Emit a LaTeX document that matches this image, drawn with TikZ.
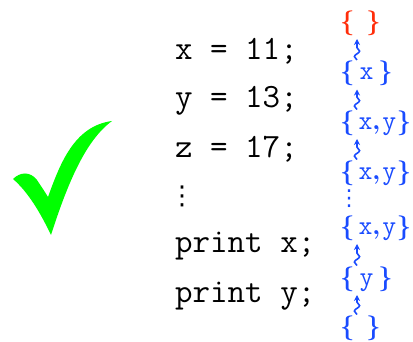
\documentclass[tikz,border=0pt]{standalone}
\usepackage{fontspec}
\newfontfamily\dejavu{DejaVu Sans}
\usetikzlibrary{decorations.pathmorphing,arrows.meta}
\definecolor{setblue}{RGB}{25,75,255}
\definecolor{setred}{RGB}{255,45,10}
\definecolor{checkgreen}{RGB}{0,255,0}
\tikzset{
  code/.style={anchor=base west,inner sep=0pt,font=\ttfamily\fontsize{34}{34}\selectfont},
  setnode/.style={anchor=west,inner sep=0pt,text=setblue,font=\boldmath\fontsize{27}{27}\selectfont},
  wavy/.style={setblue,line width=1.6pt,-{Stealth[length=6pt,width=6pt]},
    decorate,decoration={snake,amplitude=2.6pt,segment length=11pt,post length=4pt}},
}
\newcommand{\sx}{{\ttfamily\mdseries x}}
\newcommand{\sy}{{\ttfamily\mdseries y}}
\begin{document}
\begin{tikzpicture}[x=1pt,y=-1pt]
\useasboundingbox (0,0) rectangle (413,342);
% check mark
\fill[checkgreen] (13,179) .. controls (20,172) and (30,171) .. (37,180)
  .. controls (41,186) and (45,192) .. (48,197)
  .. controls (60,164) and (74,126) .. (112,121)
  .. controls (86,140) and (68,182) .. (51,235)
  .. controls (40,212) and (28,192) .. (13,179) -- cycle;
% code
\node[code] (c1) at (175,60) {x = 11;};
\node[code] (c2) at (175,108) {y = 13;};
\node[code] (c3) at (175,158) {z = 17;};
\node[anchor=center,inner sep=0pt,font=\dejavu\fontsize{26}{26}\selectfont] (cvd) at (182,196) {⋮};
\node[code] (c4) at (175,253) {print x;};
\node[code] (c5) at (175,302) {print y;};
% sets
\node[setnode,text=setred] (s0) at (340,23) {$\{\hspace{12pt}\}$};
\node[setnode] (s1) at (340,73.5) {$\{\hspace{5pt}$\sx$\hspace{5pt}\}$};
\node[setnode] (s2) at (340,123) {$\{\hspace{4pt}$\sx$,\hspace{2pt}$\sy$\hspace{0.5pt}\}$};
\node[setnode] (s3) at (340,173) {$\{\hspace{4pt}$\sx$,\hspace{2pt}$\sy$\hspace{0.5pt}\}$};
\node[anchor=center,inner sep=0pt,text=setblue,font=\dejavu\fontsize{22}{22}\selectfont] (svd) at (349,199) {⋮};
\node[setnode] (s4) at (340,228) {$\{\hspace{4pt}$\sx$,\hspace{2pt}$\sy$\hspace{0.5pt}\}$};
\node[setnode] (s5) at (340,279) {$\{\hspace{5pt}$\sy$\hspace{5pt}\}$};
\node[setnode] (s6) at (340,328) {$\{\hspace{12pt}\}$};
% arrows: from lower set up to upper set
\draw[wavy] ([xshift=17pt,yshift=13.5pt]s1.west) -- ([xshift=17pt,yshift=-16pt]s0.west);
\draw[wavy] ([xshift=17pt,yshift=13.5pt]s2.west) -- ([xshift=17pt,yshift=-16pt]s1.west);
\draw[wavy] ([xshift=17pt,yshift=13.5pt]s3.west) -- ([xshift=17pt,yshift=-16pt]s2.west);
\draw[wavy] ([xshift=17pt,yshift=13.5pt]s5.west) -- ([xshift=17pt,yshift=-16pt]s4.west);
\draw[wavy] ([xshift=17pt,yshift=13.5pt]s6.west) -- ([xshift=17pt,yshift=-16pt]s5.west);
\end{tikzpicture}
\end{document}
